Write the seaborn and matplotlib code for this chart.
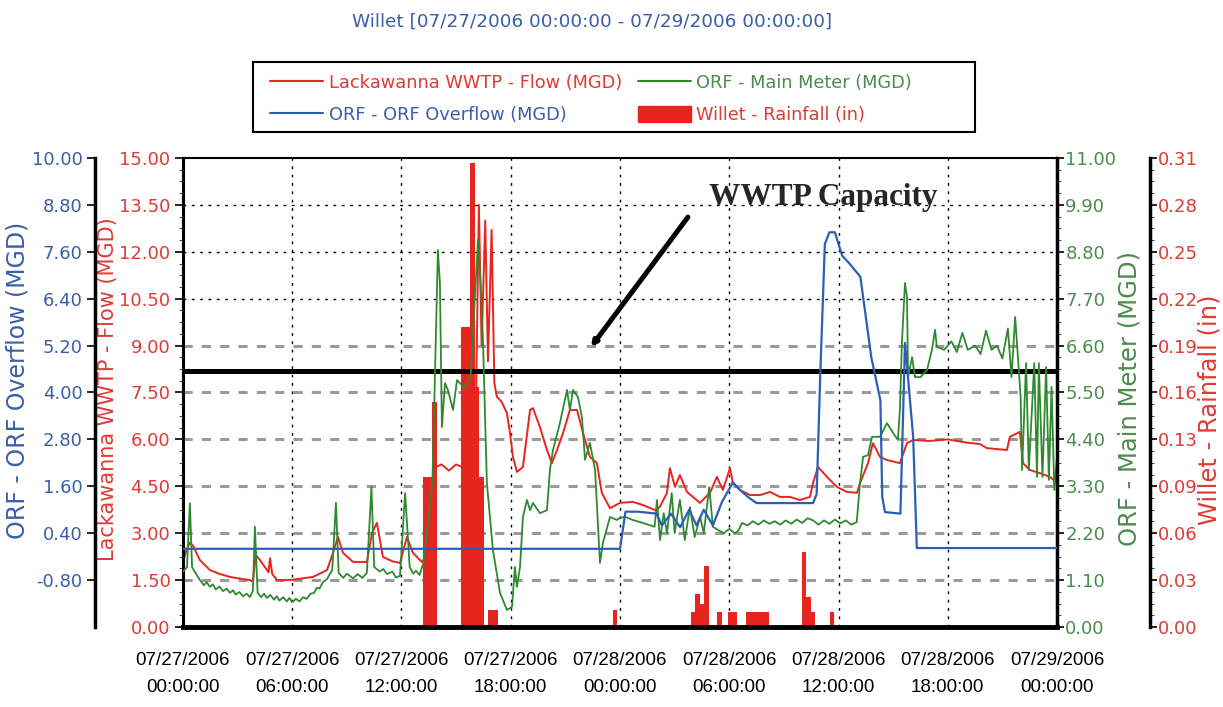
import numpy as np
import matplotlib
matplotlib.use("Agg")
import matplotlib.pyplot as plt
from matplotlib.lines import Line2D
from matplotlib.patches import Patch, Rectangle
from matplotlib.ticker import AutoMinorLocator, FixedLocator, MultipleLocator
import seaborn as sns

sns.set_style("white")
plt.rcParams['font.family'] = ['DejaVu Sans']

# ---------------- data (hours since 07/27/2006 00:00) ----------------
title = "Willet [07/27/2006 00:00:00 - 07/29/2006 00:00:00]"

flow_label = "Lackawanna WWTP - Flow (MGD)"
overflow_label = "ORF - ORF Overflow (MGD)"
meter_label = "ORF - Main Meter (MGD)"
rain_label = "Willet - Rainfall (in)"

flow_t = [0.0, 0.22, 0.38, 0.55, 0.93, 1.48, 2.0, 2.58, 3.1, 3.68, 3.84, 4.0, 4.23, 4.61, 4.7,
          4.78, 4.9, 5.16, 5.88, 6.5, 7.14, 7.91, 8.24, 8.51, 8.79, 9.34, 10.1, 10.38, 10.65,
          10.98, 11.5, 11.92, 12.3, 12.63, 13.12, 13.4, 13.84, 14.2, 14.6, 15.0, 15.38, 15.8,
          16.1, 16.25, 16.4, 16.6, 16.75, 16.95, 17.1, 17.24, 17.5, 17.79, 17.96, 18.12, 18.34,
          18.67, 19.06, 19.22, 19.6, 19.99, 20.26, 20.54, 20.87, 21.25, 21.64, 21.97, 22.35,
          22.73, 23.0, 23.45, 24.0, 24.71, 25.26, 25.92, 26.19, 26.58, 26.74, 27.02, 27.29,
          27.68, 28.0, 28.39, 28.94, 29.32, 29.65, 30.04, 30.2, 30.59, 31.14, 31.69, 32.24,
          32.78, 33.33, 33.88, 34.43, 34.6, 34.87, 35.37, 35.91, 36.46, 37.01, 37.18, 37.62,
          37.89, 38.28, 38.66, 39.37, 39.76, 40.09, 41.0, 42.0, 43.0, 43.77, 44.15, 45.25,
          45.41, 45.96, 46.13, 46.51, 47.06, 47.61, 48.0]
flow_v = [2.1, 2.5, 2.7, 2.6, 2.14, 1.82, 1.7, 1.6, 1.55, 1.5, 1.45, 2.3, 2.14, 1.82, 1.75,
          2.2, 1.7, 1.5, 1.5, 1.55, 1.6, 1.82, 2.37, 2.88, 2.37, 2.08, 2.08, 3.0, 3.33,
          2.24, 2.1, 2.05, 2.88, 2.37, 2.08, 2.3, 5.1, 5.2, 5.0, 5.2, 5.1, 5.3,
          7.5, 13.5, 9.0, 13.0, 8.5, 12.7, 7.8, 7.36, 7.2, 6.84, 6.2, 5.44, 4.96,
          5.12, 6.94, 7.0, 6.4, 5.66, 5.24, 5.66, 6.2, 6.94, 6.94, 6.2, 5.44,
          5.24, 4.29, 3.8, 3.97, 4.0, 3.9, 3.74, 3.84, 4.29, 5.08, 4.48, 4.86,
          4.32, 4.16, 3.97, 4.29, 4.8, 4.38, 5.08, 4.6, 4.38, 4.22, 4.22, 4.32,
          4.16, 4.16, 4.06, 4.16, 4.6, 5.12, 4.8, 4.48, 4.32, 4.29, 4.6, 5.24,
          5.88, 5.44, 5.34, 5.24, 5.88, 5.98, 5.95, 6.0, 5.9, 5.85, 5.72, 5.66,
          6.08, 6.24, 5.24, 5.02, 4.92, 4.8, 4.6]

meter_t = [0.0, 0.22, 0.38, 0.5, 0.93, 1.15, 1.3, 1.48, 1.65, 1.8, 2.0, 2.2, 2.4, 2.58, 2.75,
           2.9, 3.1, 3.3, 3.5, 3.68, 3.84, 3.95, 4.1, 4.3, 4.45, 4.61, 4.8, 5.0, 5.15, 5.3,
           5.5, 5.7, 5.85, 6.0, 6.2, 6.4, 6.6, 6.8, 7.0, 7.2, 7.35, 7.5, 7.7, 7.91, 8.2, 8.4,
           8.55, 8.8, 9.0, 9.34, 9.6, 9.85, 10.1, 10.35, 10.5, 10.8, 11.0, 11.2, 11.5, 11.7,
           11.92, 12.2, 12.45, 12.65, 12.8, 13.0, 13.2, 13.7, 14.0, 14.11, 14.22, 14.39, 14.55,
           14.83, 15.05, 15.21, 15.5, 15.8, 16.0, 16.2, 16.35, 16.47, 16.69, 16.86, 17.02,
           17.41, 17.79, 18.07, 18.23, 18.34, 18.51, 18.67, 18.89, 19.06, 19.22, 19.6, 19.99,
           20.15, 20.32, 20.7, 21.09, 21.25, 21.42, 21.69, 21.91, 22.08, 22.35, 22.63, 22.9,
           23.06, 23.45, 23.83, 24.0, 24.3, 24.7, 25.26, 25.9, 26.03, 26.2, 26.4, 26.58, 26.84,
           27.0, 27.29, 27.56, 27.84, 28.1, 28.4, 28.6, 28.9, 29.1, 29.4, 29.7, 30.0, 30.3,
           30.5, 30.7, 31.0, 31.3, 31.6, 31.9, 32.2, 32.5, 32.8, 33.1, 33.4, 33.7, 34.0, 34.3,
           34.6, 34.9, 35.2, 35.5, 35.8, 36.1, 36.4, 36.7, 37.0, 37.18, 37.35, 37.62, 37.84,
           38.28, 38.66, 39.0, 39.26, 39.37, 39.48, 39.65, 39.76, 39.82, 40.04, 40.2, 40.5,
           40.86, 41.13, 41.3, 41.4, 41.8, 42.2, 42.5, 42.8, 43.1, 43.5, 43.8, 44.1, 44.4,
           44.7, 45.0, 45.3, 45.5, 45.7, 45.8, 46.0, 46.08, 46.3, 46.45, 46.75, 46.9, 47.0,
           47.2, 47.4, 47.55, 47.7, 47.85, 48.0]
meter_v = [1.3, 1.4, 2.9, 1.4, 1.1, 0.98, 1.05, 0.94, 1.0, 0.88, 0.95, 0.84, 0.9, 0.8, 0.86,
           0.76, 0.82, 0.72, 0.78, 0.7, 0.85, 2.35, 0.8, 0.7, 0.78, 0.68, 0.75, 0.64, 0.72, 0.62,
           0.7, 0.6, 0.68, 0.58, 0.66, 0.6, 0.7, 0.66, 0.78, 0.8, 0.92, 0.9, 1.06, 1.12, 1.34, 2.91,
           1.27, 1.15, 1.25, 1.14, 1.24, 1.15, 1.27, 3.28, 1.41, 1.3, 1.36, 1.24, 1.3, 1.16,
           1.2, 3.14, 1.41, 1.25, 1.32, 1.22, 1.5, 3.4, 8.84, 8.07, 4.69, 5.72, 5.56,
           5.09, 5.79, 5.72, 5.6, 5.9, 7.5, 9.08, 8.0, 6.8, 3.38, 2.58, 1.81,
           0.8, 0.4, 0.47, 1.41, 0.94, 1.41, 2.58, 2.98, 2.74, 2.91, 2.67, 2.74,
           3.68, 4.15, 4.78, 5.56, 5.09, 5.56, 5.39, 4.92, 3.92, 4.32, 3.68, 1.5,
           1.97, 2.58, 2.51, 2.56, 2.58, 2.51, 2.44, 2.35, 2.98, 2.04, 2.67, 2.2, 3.14,
           2.2, 2.98, 2.04, 2.81, 2.11, 2.58, 2.2, 3.28, 2.35, 2.27, 2.2, 2.3, 2.2,
           2.26, 2.44, 2.38, 2.48, 2.4, 2.5, 2.42, 2.48, 2.4, 2.5, 2.42, 2.52, 2.44, 2.55,
           2.5, 2.4, 2.5, 2.42, 2.52, 2.43, 2.5, 2.4, 2.46, 3.38, 3.99, 4.03, 4.46,
           4.46, 4.78, 4.55, 4.39, 5.09, 6.66, 8.07, 7.74, 5.86, 6.33, 5.86, 5.86,
           6.03, 6.5, 6.97, 6.57, 6.5, 6.7, 6.45, 6.9, 6.5, 6.6, 6.4, 6.95, 6.5,
           6.6, 6.3, 7.0, 5.86, 7.27, 6.66, 5.39, 3.68, 6.19, 3.68, 6.19, 3.52, 6.19,
           3.52, 6.1, 3.45, 5.63, 3.21, 4.0]

overflow_t = [0.0, 24.0, 24.3, 25.0, 26.0, 26.3, 26.8, 27.3, 27.8, 28.2, 28.6, 29.1, 29.6,
              30.2, 30.6, 31.1, 31.5, 34.6, 34.8, 35.0, 35.25, 35.5, 35.8, 36.2, 36.6,
              37.2, 37.8, 38.3, 38.4, 38.55, 39.4, 39.65, 40.1, 40.3, 48.0]
overflow_v = [0.0, 0.0, 0.95, 0.95, 0.9, 0.6, 0.9, 0.55, 1.0, 0.6, 1.0, 0.6, 1.2,
              1.7, 1.5, 1.3, 1.17, 1.17, 1.4, 4.5, 7.8, 8.1, 8.1, 7.5, 7.3,
              6.96, 4.9, 3.8, 1.33, 0.94, 0.9, 5.27, 2.86, 0.02, 0.02]

rain_t = [13.3, 13.55, 13.8, 15.4, 15.65, 15.9, 16.15, 16.4, 16.9, 17.15, 23.72, 28.0, 28.25,
          28.5, 28.75, 29.45, 30.05, 30.3, 31.05, 31.3, 31.55, 31.8, 32.05, 34.1, 34.35,
          34.6, 35.65]
rain_v = [0.10, 0.10, 0.15, 0.20, 0.20, 0.31, 0.16, 0.10, 0.011, 0.011, 0.011, 0.01, 0.022,
          0.015, 0.041, 0.01, 0.01, 0.01, 0.01, 0.01, 0.01, 0.01, 0.01, 0.05, 0.02,
          0.01, 0.01]

wwtp_capacity = 8.2
capacity_text = "WWTP Capacity"

x_ticks = [0, 6, 12, 18, 24, 30, 36, 42, 48]
x_tick_labels = ["07/27/2006\n00:00:00", "07/27/2006\n06:00:00", "07/27/2006\n12:00:00",
                 "07/27/2006\n18:00:00", "07/28/2006\n00:00:00", "07/28/2006\n06:00:00",
                 "07/28/2006\n12:00:00", "07/28/2006\n18:00:00", "07/29/2006\n00:00:00"]
flow_ticks = [0.0, 1.5, 3.0, 4.5, 6.0, 7.5, 9.0, 10.5, 12.0, 13.5, 15.0]
overflow_ticks = [-0.8, 0.4, 1.6, 2.8, 4.0, 5.2, 6.4, 7.6, 8.8, 10.0]
meter_ticks = [0.0, 1.1, 2.2, 3.3, 4.4, 5.5, 6.6, 7.7, 8.8, 9.9, 11.0]
rain_max = 0.313
rain_ticks = [0.0, 0.0313, 0.0626, 0.0939, 0.1252, 0.1565, 0.1878, 0.2191, 0.2504, 0.2817, 0.313]

# ---------------- styling ----------------
RED = "#e8241f"
RED_TXT = "#e03a34"
GREEN = "#2f8a2f"
GREEN_TXT = "#4c8c4c"
BLUE = "#2c5fb3"
BLUE_TXT = "#3a5fa8"

fig = plt.figure(figsize=(12.23, 7.07), dpi=100)
ax = fig.add_axes([0.1496, 0.1132, 0.7147, 0.6633])
ax_rain = ax.twinx()
ax_meter = ax.twinx()
ax_over = ax.twinx()

ax_rain.set_zorder(1)
ax.set_zorder(2)
ax_meter.set_zorder(3)
ax_over.set_zorder(4)
for a in (ax, ax_meter, ax_over):
    a.patch.set_visible(False)

# rainfall bars and grid on the lowest axes
ax_rain.bar(rain_t, rain_v, width=0.25, color=RED, align="center", zorder=3, linewidth=0)
ax_rain.set_ylim(0, rain_max)
for k, yv in enumerate(rain_ticks[1:-1], start=1):
    if k >= 7:
        ax_rain.axhline(yv, color="black", lw=1.0, ls=(0, (2, 4)), zorder=1)
    else:
        ax_rain.axhline(yv, color="#9a9a9a", lw=2.2, ls=(0, (3, 3)), zorder=1)
for xv in x_ticks[1:-1]:
    ax_rain.axvline(xv, color="black", lw=1.0, ls=(0, (2, 4)), zorder=1)

# lines
sns.lineplot(x=flow_t, y=flow_v, ax=ax, color=RED, lw=1.4, estimator=None, sort=False, legend=False)
sns.lineplot(x=meter_t, y=meter_v, ax=ax_meter, color=GREEN, lw=1.3, estimator=None, sort=False, legend=False)
sns.lineplot(x=overflow_t, y=overflow_v, ax=ax_over, color=BLUE, lw=1.6, estimator=None, sort=False, legend=False)

ax.axhline(wwtp_capacity, color="black", lw=3.6, zorder=5)

ax.set_xlim(0, 48)
ax.set_ylim(0, 15)
ax_meter.set_ylim(0, 11)
ax_over.set_ylim(-2, 10)

# spines
for a in (ax, ax_rain, ax_meter, ax_over):
    for s in a.spines.values():
        s.set_visible(False)
ax.spines["left"].set_visible(True)
ax.spines["left"].set_linewidth(2.2)
ax.spines["top"].set_visible(True)
ax.spines["top"].set_linewidth(1.5)
ax.spines["bottom"].set_visible(True)
ax.spines["bottom"].set_linewidth(3.5)
ax_meter.spines["right"].set_visible(True)
ax_meter.spines["right"].set_linewidth(2.5)
ax_rain.spines["right"].set_visible(True)
ax_rain.spines["right"].set_linewidth(2.5)
ax_rain.spines["right"].set_position(("axes", 1.1064))
ax_over.spines["left"].set_visible(True)
ax_over.spines["left"].set_linewidth(2.5)
ax_over.spines["left"].set_position(("axes", -0.1007))
for a in (ax, ax_rain, ax_meter, ax_over):
    for s in a.spines.values():
        s.set_color("black")

# x axis
ax.set_xticks(x_ticks)
ax.set_xticklabels(x_tick_labels, fontfamily="Liberation Sans", fontsize=13.5, linespacing=1.75)
ax.xaxis.set_minor_locator(MultipleLocator(0.75))
ax.tick_params(axis="x", which="major", direction="out", length=5, width=1.2, pad=13, colors="black")
ax.tick_params(axis="x", which="minor", direction="out", length=3, width=0.8)

# red flow axis
ax.set_yticks(flow_ticks)
ax.set_yticklabels([f"{v:.2f}" for v in flow_ticks])
ax.yaxis.set_minor_locator(AutoMinorLocator(4))
ax.tick_params(axis="y", which="major", direction="out", length=6, width=1.2, pad=3,
               labelsize=13, labelcolor=RED_TXT, color="black", left=True, right=False)
ax.tick_params(axis="y", which="minor", direction="out", length=3, left=True, right=False)

# blue overflow axis on the far left
ax_over.yaxis.set_ticks_position("left")
ax_over.set_yticks(overflow_ticks)
ax_over.set_yticklabels([f"{v:.2f}" for v in overflow_ticks])
ax_over.yaxis.set_minor_locator(FixedLocator([]))
ax_over.tick_params(axis="y", which="major", direction="out", length=6, width=1.2, pad=3,
                    labelsize=13, labelcolor=BLUE_TXT, color="black")
ax_over.tick_params(axis="x", bottom=False, labelbottom=False)

# green meter axis
ax_meter.set_yticks(meter_ticks)
ax_meter.set_yticklabels([f"{v:.2f}" for v in meter_ticks])
ax_meter.yaxis.set_minor_locator(AutoMinorLocator(4))
ax_meter.tick_params(axis="y", which="major", direction="out", length=5, width=1.2, pad=1,
                     labelsize=13, labelcolor=GREEN_TXT, color="black")
ax_meter.tick_params(axis="y", which="minor", direction="out", length=3)

# rainfall axis
ax_rain.set_yticks(rain_ticks)
ax_rain.set_yticklabels([f"{v:.2f}" for v in rain_ticks])
ax_rain.yaxis.set_minor_locator(AutoMinorLocator(4))
ax_rain.tick_params(axis="y", which="major", direction="out", length=5, width=1.2, pad=1,
                    labelsize=13, labelcolor=RED_TXT, color="black")
ax_rain.tick_params(axis="y", which="minor", direction="out", length=3)

for a in (ax, ax_rain, ax_meter, ax_over):
    a.set_xlabel("")
    a.set_ylabel("")

# axis titles
fig.text(18 / 1223, 1 - 380 / 707, overflow_label, rotation=90, ha="center", va="center",
         color=BLUE_TXT, fontsize=17)
fig.text(108 / 1223, 1 - 389 / 707, flow_label, rotation=90, ha="center", va="center",
         color=RED_TXT, fontsize=15)
fig.text(1130 / 1223, 1 - 398 / 707, meter_label, rotation=90, ha="center", va="center",
         color=GREEN_TXT, fontsize=17.5)
fig.text(1210 / 1223, 1 - 410 / 707, rain_label, rotation=90, ha="center", va="center",
         color=RED_TXT, fontsize=17.5)

fig.text(592 / 1223, 1 - 22 / 707, title, ha="center", va="center", color=BLUE_TXT, fontsize=13.2)

# capacity annotation
ax.annotate("", xy=(22.4, 8.95), xytext=(27.73, 13.11),
            arrowprops=dict(arrowstyle="-|>", lw=3.6, color="black", mutation_scale=7,
                            shrinkA=0, shrinkB=0), zorder=6)
ax.text(28.9, 13.75, capacity_text, fontfamily="Liberation Serif", fontweight="bold",
        fontsize=22.5, va="center", ha="left", zorder=6)

# legend with a separately drawn frame
handles = [Line2D([], [], color=RED, lw=1.5),
           Line2D([], [], color=BLUE, lw=1.5),
           Line2D([], [], color=GREEN, lw=1.5),
           Patch(facecolor=RED, edgecolor=RED)]
labels = [flow_label, overflow_label, meter_label, rain_label]
leg = fig.legend(handles, labels, loc="upper left", bbox_to_anchor=(253 / 1223, 1 - 57 / 707),
                 ncol=2, frameon=False, fontsize=12.8, handlelength=3.0, handleheight=1.0,
                 columnspacing=0.9, borderpad=0.45, labelspacing=0.8, handletextpad=0.3)
for txt, col in zip(leg.get_texts(), [RED_TXT, BLUE_TXT, GREEN_TXT, RED_TXT]):
    txt.set_color(col)
fig.patches.append(Rectangle((253 / 1223, 1 - 132 / 707), (975 - 253) / 1223, 70 / 707,
                             transform=fig.transFigure, fill=False, edgecolor="black", lw=1.5))

fig.savefig("out.png", dpi=100)
